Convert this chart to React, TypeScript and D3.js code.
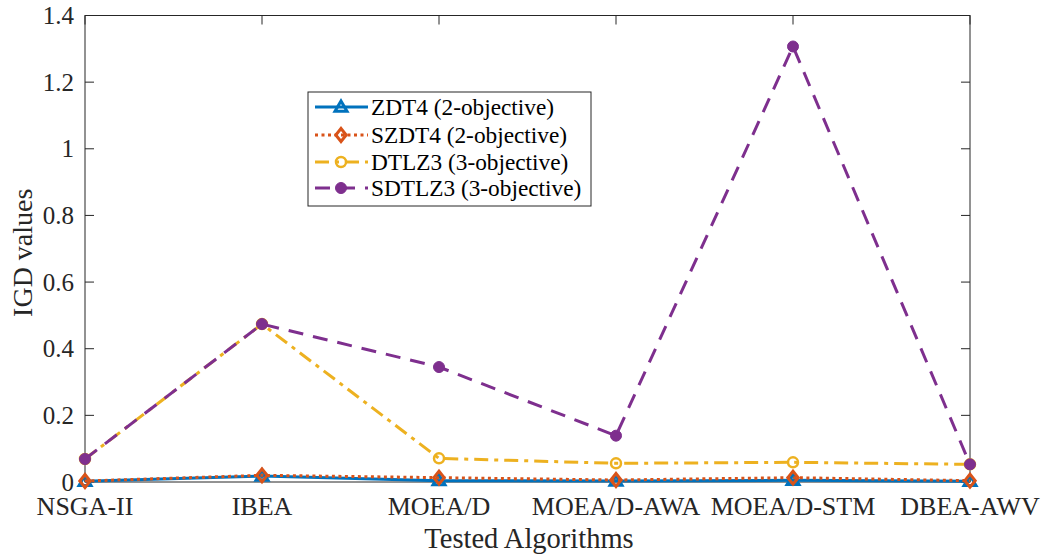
import React from "react";
import * as d3 from "d3";

const categories = ["NSGA-II", "IBEA", "MOEA/D", "MOEA/D-AWA", "MOEA/D-STM", "DBEA-AWV"];
const zdt4 = [0.002, 0.018, 0.004, 0.003, 0.005, 0.002];
const szdt4 = [0.003, 0.02, 0.013, 0.006, 0.013, 0.004];
const dtlz3 = [0.069, 0.474, 0.071, 0.056, 0.059, 0.053];
const sdtlz3 = [0.069, 0.474, 0.345, 0.139, 1.307, 0.053];
const yTicks = [0, 0.2, 0.4, 0.6, 0.8, 1, 1.2, 1.4];

const series = [
  { name: "ZDT4 (2-objective)", values: zdt4, color: "#0072BD", dash: "", marker: "triangle" },
  { name: "SZDT4 (2-objective)", values: szdt4, color: "#D95319", dash: "3,3.5", marker: "diamond" },
  { name: "DTLZ3 (3-objective)", values: dtlz3, color: "#EDB120", dash: "14,6,4,6", marker: "circle" },
  { name: "SDTLZ3 (3-objective)", values: sdtlz3, color: "#7E2F8E", dash: "15,10", marker: "dot" },
];

const W = 1044, H = 557;
const L = 85, R = 970, T = 15.5, B = 482;
const FONT = "Liberation Serif";

function Marker({ type, x, y, color }: { type: string; x: number; y: number; color: string }) {
  if (type === "triangle") {
    const s = 6;
    return <path d={`M${x},${y - s} L${x + s},${y + s * 0.7} L${x - s},${y + s * 0.7} Z`} fill="none" stroke={color} strokeWidth={3} />;
  }
  if (type === "diamond") {
    const s = 6.5;
    return <path d={`M${x},${y - s} L${x + s * 0.8},${y} L${x},${y + s} L${x - s * 0.8},${y} Z`} fill="none" stroke={color} strokeWidth={3} />;
  }
  if (type === "circle") {
    return <circle cx={x} cy={y} r={5} fill="none" stroke={color} strokeWidth={2.5} />;
  }
  return <circle cx={x} cy={y} r={5.5} fill={color} stroke={color} strokeWidth={1} />;
}

export default function App() {
  const x = d3.scalePoint<string>().domain(categories).range([L, R]);
  const y = d3.scaleLinear().domain([0, 1.4]).range([B, T]);
  const line = d3.line<number>().x((_, i) => x(categories[i])!).y((d) => y(d));

  const legX = 308, legY = 92, legW = 283, legH = 114;
  const rowY = [107, 135, 162, 188];

  return (
    <svg width={W} height={H} style={{ position: "absolute", left: 0, top: 0, background: "white" }}>
      <rect x={0} y={0} width={W} height={H} fill="white" />
      <rect x={L} y={T} width={R - L} height={B - T} fill="none" stroke="#262626" strokeWidth={1} />
      {yTicks.map((t) => (
        <g key={t}>
          <line x1={L} x2={L + 9} y1={y(t)} y2={y(t)} stroke="#262626" />
          <line x1={R} x2={R - 9} y1={y(t)} y2={y(t)} stroke="#262626" />
          <text x={L - 11} y={y(t) + 8.5} textAnchor="end" style={{ fontFamily: FONT }} fontSize={25} fill="#262626">
            {d3.format("~g")(t)}
          </text>
        </g>
      ))}
      {categories.map((c) => (
        <g key={c}>
          <line x1={x(c)} x2={x(c)} y1={B} y2={B - 9} stroke="#262626" />
          <line x1={x(c)} x2={x(c)} y1={T} y2={T + 9} stroke="#262626" />
          <text x={x(c)} y={515} textAnchor="middle" style={{ fontFamily: FONT }} fontSize={26} fill="#262626">
            {c}
          </text>
        </g>
      ))}
      <text x={529} y={548} textAnchor="middle" style={{ fontFamily: FONT }} fontSize={28.5} fill="#262626">
        Tested Algorithms
      </text>
      <text transform={`translate(32,${(T + B) / 2 + 4}) rotate(-90)`} textAnchor="middle" style={{ fontFamily: FONT }} fontSize={28} fill="#262626">
        IGD values
      </text>
      {series.map((s) => (
        <g key={s.name}>
          <path d={line(s.values) || ""} fill="none" stroke={s.color} strokeWidth={3} strokeDasharray={s.dash} />
          {s.values.map((v, i) => (
            <Marker key={i} type={s.marker} x={x(categories[i])!} y={y(v)} color={s.color} />
          ))}
        </g>
      ))}
      <rect x={legX} y={legY} width={legW} height={legH} fill="white" stroke="#262626" strokeWidth={1} />
      {series.map((s, i) => (
        <g key={s.name}>
          <line x1={315} x2={368} y1={rowY[i]} y2={rowY[i]} stroke={s.color} strokeWidth={3} strokeDasharray={s.dash} />
          <Marker type={s.marker} x={341} y={rowY[i]} color={s.color} />
          <text x={371} y={rowY[i] + 8} style={{ fontFamily: FONT }} fontSize={23.3} fill="#000">
            {s.name}
          </text>
        </g>
      ))}
    </svg>
  );
}
